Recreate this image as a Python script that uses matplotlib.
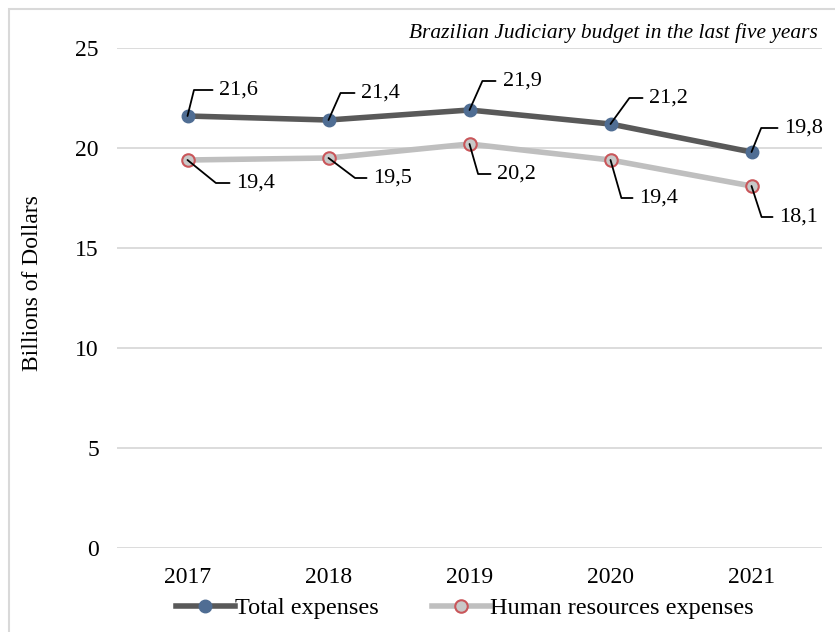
import numpy as np
import matplotlib.pyplot as plt
from matplotlib.patches import Rectangle
from matplotlib.lines import Line2D

plt.rcParams['font.family'] = ['Liberation Serif', 'DejaVu Serif']

years = ['2017', '2018', '2019', '2020', '2021']
total = [21.6, 21.4, 21.9, 21.2, 19.8]
human = [19.4, 19.5, 20.2, 19.4, 18.1]
total_lbl = ['21,6', '21,4', '21,9', '21,2', '19,8']
human_lbl = ['19,4', '19,5', '20,2', '19,4', '18,1']

# label placement (offset in px, leader angle in degrees)
total_off = [(32, 26, 76), (33, 27, 66), (33, 29, 66), (39, 26, 54), (33, 24, 68)]
human_off = [(49, -23, -39), (45, -20, -37), (28, -30, -74), (29, -38, -74), (28, -31, -72)]

fig = plt.figure(figsize=(8.35, 6.32), dpi=100)
ax = fig.add_axes([117/835, 1 - 548/632, 705/835, 500/632])

# light frame around the figure
fig.patches.append(Rectangle((9/835, -0.1), 1.2, 1 - 9/632 + 0.1, transform=fig.transFigure,
                             fill=False, ec='#d9d9d9', lw=1.5))

x = np.arange(len(years))
ax.plot(x, total, color='#595959', lw=4, marker='o', ms=9,
        mfc='#4f6d93', mec='#4f6d93', zorder=3)
ax.plot(x, human, color='#bfbfbf', lw=4, marker='o', ms=9,
        mfc='#c8c8c8', mec='#c9565a', mew=1.5, zorder=3)

for i in range(len(years)):
    for lbl, val, off in ((total_lbl[i], total[i], total_off[i]), (human_lbl[i], human[i], human_off[i])):
        dx, dy, ang = off
        ax.annotate(lbl, (x[i], val), xytext=(dx * 0.72, dy * 0.72), textcoords='offset points',
                    ha='left', va='center', fontsize=16,
                    arrowprops=dict(arrowstyle='-', color='black', lw=1.3,
                                    connectionstyle='angle,angleA=0,angleB=%d' % ang,
                                    shrinkA=3, shrinkB=0))

ax.set_xlim(-0.5, 4.5)
ax.set_ylim(0, 25)
ax.set_yticks([0, 5, 10, 15, 20, 25])
ax.set_xticks(x)
ax.set_xticklabels(years)
ax.tick_params(length=0, labelsize=17, pad=13)
ax.tick_params(axis='x', pad=14)
ax.grid(axis='y', color='#d9d9d9', lw=1.3)
ax.set_axisbelow(True)
for s in ax.spines.values():
    s.set_visible(False)

fig.text(33/835, 1 - 283/632, 'Billions of Dollars', rotation=90,
         ha='center', va='center', fontsize=17)

fig.text(818/835, 1 - 33/632, 'Brazilian Judiciary budget in the last five years',
         ha='right', va='center', fontsize=15.4, style='italic')

handles = [Line2D([], [], color='#595959', lw=4, marker='o', ms=9, mfc='#4f6d93', mec='#4f6d93'),
           Line2D([], [], color='#bfbfbf', lw=4, marker='o', ms=9, mfc='#c8c8c8', mec='#c9565a', mew=1.5)]
fig.legend(handles, ['Total expenses', 'Human resources expenses'], loc='center',
           bbox_to_anchor=(465/835, 1 - 608/632), ncol=2, frameon=False, fontsize=17.5,
           handlelength=2.4, handletextpad=0.0, columnspacing=2.2)

fig.savefig('out.png', dpi=100)
